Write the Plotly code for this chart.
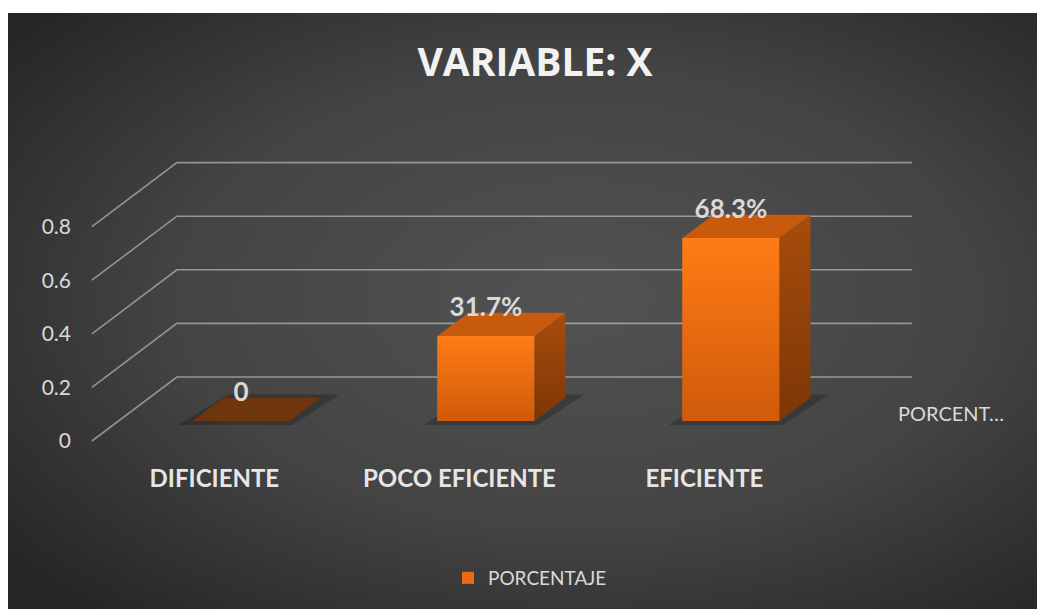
import base64
import plotly.graph_objects as go

# ---------------- data ----------------
categories = ["DIFICIENTE", "POCO EFICIENTE", "EFICIENTE"]
values = [0.0, 0.317, 0.683]
value_labels = ["0", "31.7%", "68.3%"]
y_ticks = [0, 0.2, 0.4, 0.6, 0.8]
y_tick_labels = ["0", "0.2", "0.4", "0.6", "0.8"]
series_name = "PORCENTAJE"
depth_axis_label = "PORCENT…"
title_text = "VARIABLE: X"

# ---------------- layout / projection constants (figure pixels) ----------------
# the page body adds an 8px margin, so the figure is 8px smaller than the window
W, H = 1037, 601
L, R, T, B = 72, 1022, 12, 454
PX_X = 245.0          # px per category step
PX_Y = 268.0          # px per value unit
X0_PX = 206.4         # px of category 0 on the front plane
Y0_PX = 433.0         # px of value 0 on the front plane
DEPTH_PX = (85.0, -64.0)
DX = DEPTH_PX[0] / PX_X
DY = -DEPTH_PX[1] / PX_Y
T0, T1 = 0.3125, 0.677   # depth band occupied by the bars
BW = 0.396               # bar width (category units)

FRONT = "#ec6b10"
FRONT_TOP, FRONT_BOTTOM = "#ff7c16", "#d05a0a"
SIDE_TOP, SIDE_BOTTOM = "#a84d0c", "#7c3606"
TOP = "#c85a0d"
TOP_ZERO = "#6f350c"
GRID = "rgba(205,205,205,0.6)"
TXT = "#d9d9d9"
FONT = "Lato"


def P(x, y, t):
    return x + t * DX, y + t * DY


def path(pts):
    return "M " + " L ".join(f"{x:.5f},{y:.5f}" for x, y in pts) + " Z"


def open_path(pts):
    return "M " + " L ".join(f"{x:.5f},{y:.5f}" for x, y in pts)


def face(pts, top_col, bottom_col=None):
    xs = [p[0] for p in pts] + [pts[0][0]]
    ys = [p[1] for p in pts] + [pts[0][1]]
    kw = dict(fillcolor=top_col)
    if bottom_col is not None:
        kw = dict(fillgradient=dict(type="vertical",
                                    colorscale=[[0, bottom_col], [1, top_col]]))
    return go.Scatter(x=xs, y=ys, fill="toself", mode="lines",
                      line=dict(width=0, color=top_col), hoverinfo="skip",
                      showlegend=False, **kw)


fig = go.Figure()
shapes = []

# 3D gridlines (floor diagonal + back wall)
n = len(categories)
for v in y_ticks:
    shapes.append(dict(
        type="path", xref="x", yref="y", layer="below",
        path=open_path([P(-0.5, v, 0), P(-0.5, v, 1), P(n - 0.5, v, 1)]),
        line=dict(color=GRID, width=1.6),
    ))

# soft shadows on the floor
for i, v in enumerate(values):
    pts = [P(i - BW / 2 - 0.05, -0.01, T0 - 0.02), P(i + BW / 2 + 0.02, -0.01, T0 - 0.02),
           P(i + BW / 2 + 0.06, 0, T1 + 0.05), P(i - BW / 2, 0, T1 + 0.05)]
    shapes.append(dict(type="path", xref="x", yref="y", layer="below",
                       path=path(pts), fillcolor="rgba(0,0,0,0.22)", line=dict(width=0)))

# front faces (bar trace through the axes)
fig.add_trace(go.Bar(
    x=[i + T0 * DX for i in range(n)], y=values, base=T0 * DY, width=BW,
    marker=dict(color=FRONT, line=dict(width=0)), name=series_name,
    showlegend=True, hoverinfo="skip"))

# side, top and shaded front faces
for i, v in enumerate(values):
    xr = i + BW / 2
    xl = i - BW / 2
    if v > 0:
        fig.add_trace(face([P(xl, 0, T0), P(xr, 0, T0), P(xr, v, T0), P(xl, v, T0)],
                           FRONT_TOP, FRONT_BOTTOM))
        fig.add_trace(face([P(xr, 0, T0), P(xr, v, T0), P(xr, v, T1), P(xr, 0, T1)],
                           SIDE_TOP, SIDE_BOTTOM))
    fig.add_trace(face([P(xl, v, T0), P(xr, v, T0), P(xr, v, T1), P(xl, v, T1)],
                       TOP if v > 0 else TOP_ZERO))

# data labels
fig.add_trace(go.Scatter(
    x=[i + T0 * DX for i in range(n)], y=[v + T1 * DY + 0.012 for v in values],
    mode="text", text=value_labels, textposition="middle center",
    textfont=dict(family=FONT, size=26, color=TXT, weight="bold"),
    hoverinfo="skip", showlegend=False))

# depth (series) axis label
fig.add_annotation(
    x=(943 - X0_PX) / PX_X, y=(Y0_PX - 405) / PX_Y, xref="x", yref="y",
    text=depth_axis_label, showarrow=False,
    font=dict(family=FONT, size=20, color=TXT))

# background radial gradient (svg data-uri)
svg = """<svg xmlns='http://www.w3.org/2000/svg' width='1037' height='596' viewBox='0 0 1037 596' preserveAspectRatio='none'>
<defs><radialGradient id='g' cx='55%' cy='48%' r='70%'>
<stop offset='0' stop-color='#525252'/><stop offset='0.55' stop-color='#444444'/><stop offset='1' stop-color='#262626'/>
</radialGradient></defs><rect width='1037' height='596' fill='url(#g)'/></svg>"""
src = "data:image/svg+xml;base64," + base64.b64encode(svg.encode()).decode()
pw, ph = R - L, B - T
fig.add_layout_image(dict(
    source=src, xref="paper", yref="paper",
    x=(0 - L) / pw, y=(B - 5) / ph, sizex=W / pw, sizey=(H - 5) / ph,
    xanchor="left", yanchor="top", sizing="stretch", layer="below"))

fig.update_layout(
    width=W, height=H,
    margin=dict(l=L, r=W - R, t=T, b=H - B, pad=0),
    paper_bgcolor="white", plot_bgcolor="rgba(0,0,0,0)",
    shapes=shapes,
    title=dict(text=title_text, x=527 / W, y=1 - 54 / H, xanchor="center", yanchor="middle",
               font=dict(family="Open Sans", size=39, color="#f2f2f2", weight="bold")),
    xaxis=dict(range=[(L - X0_PX) / PX_X, (R - X0_PX) / PX_X], tickvals=list(range(n)),
               ticktext=categories, showgrid=False, zeroline=False, showline=False, ticks="",
               tickfont=dict(family=FONT, size=24, color="#e6e6e6", weight="bold"),
               fixedrange=True),
    yaxis=dict(range=[(Y0_PX - B) / PX_Y, (Y0_PX - T) / PX_Y], tickvals=y_ticks,
               ticktext=y_tick_labels, showgrid=False, zeroline=False, showline=False, ticks="",
               tickfont=dict(family=FONT, size=21, color=TXT), ticklabelstandoff=8,
               fixedrange=True),
    legend=dict(orientation="h", x=(440 - L) / pw, y=(B - 570) / ph, xanchor="left",
                yanchor="middle", font=dict(family=FONT, size=19, color=TXT),
                bgcolor="rgba(0,0,0,0)"),
    showlegend=True,
    barmode="overlay",
)

fig.write_html("out.html")
